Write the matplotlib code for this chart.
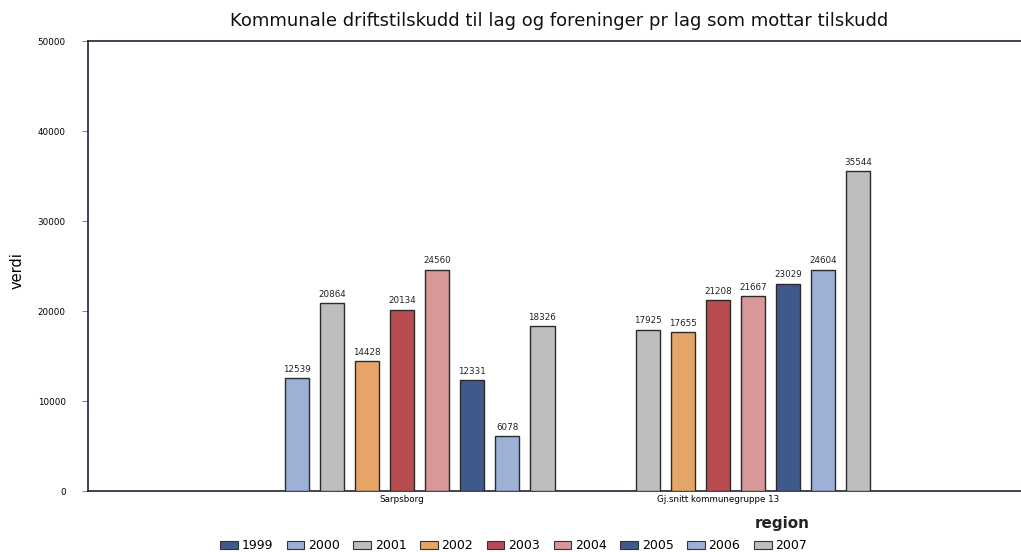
import numpy as np
import matplotlib
matplotlib.use("Agg")
import matplotlib.pyplot as plt
from matplotlib.patches import Patch

regions = ["Sarpsborg", "Gj.snitt kommunegruppe 13"]
years = ["1999", "2000", "2001", "2002", "2003", "2004", "2005", "2006", "2007"]
# values per year, [Sarpsborg, kommunegruppe 13]; None = no data
values = {
    "1999": [None, None],
    "2000": [12539, None],
    "2001": [20864, 17925],
    "2002": [14428, 17655],
    "2003": [20134, 21208],
    "2004": [24560, 21667],
    "2005": [12331, 23029],
    "2006": [6078, 24604],
    "2007": [18326, 35544],
}
colors = ["#3f5a8a", "#9db0d6", "#bebebe", "#e4a566", "#b84b4f",
          "#d89899", "#3f5a8a", "#9db0d6", "#bebebe"]

fig = plt.figure(figsize=(10.21, 5.52), dpi=100)
ax = fig.add_axes([0.0862, 0.1105, 0.9138, 0.8152])

slot = 0.111
width = 0.077
for i, yr in enumerate(years):
    for g, v in enumerate(values[yr]):
        if v is None:
            continue
        x = g + (i - 4) * slot
        ax.bar(x, v, width=width, color=colors[i], edgecolor="#2a2a2a",
               linewidth=1.0, zorder=3)
        ax.text(x, v + 500, f"{v}", ha="center", va="bottom", fontsize=6.3,
                color="#222222")

ax.set_xlim(-0.994, 1.959)
ax.set_ylim(0, 50000)
ax.set_yticks(np.arange(0, 50001, 10000))
ax.set_yticklabels([str(t) for t in range(0, 50001, 10000)], fontsize=6.3)
ax.set_xticks([0, 1])
ax.set_xticklabels(regions, fontsize=6.3)
ax.tick_params(axis="x", length=0, pad=3)
ax.tick_params(axis="y", length=4, width=0.8, color="#888888", pad=12)
for s in ["left", "bottom", "top"]:
    ax.spines[s].set_color("#22223a")
    ax.spines[s].set_linewidth(1.2)
ax.spines["right"].set_visible(False)

fig.text(0.548, 0.962, "Kommunale driftstilskudd til lag og foreninger pr lag som mottar tilskudd",
         ha="center", va="center", fontsize=13, color="#111111")
fig.text(0.017, 0.51, "verdi", rotation=90, ha="center", va="center", fontsize=10.5)
fig.text(0.766, 0.052, "region", ha="center", va="center", fontsize=11,
         fontweight="bold", color="#222222")

handles = [Patch(facecolor=c, edgecolor="#333333", linewidth=0.8) for c in colors]
fig.legend(handles, years, loc="center", bbox_to_anchor=(0.503, 0.011),
           ncol=9, frameon=False, fontsize=9, handlelength=1.4,
           handleheight=0.6, handletextpad=0.3, columnspacing=1.1)

fig.savefig("out.png", dpi=100)
